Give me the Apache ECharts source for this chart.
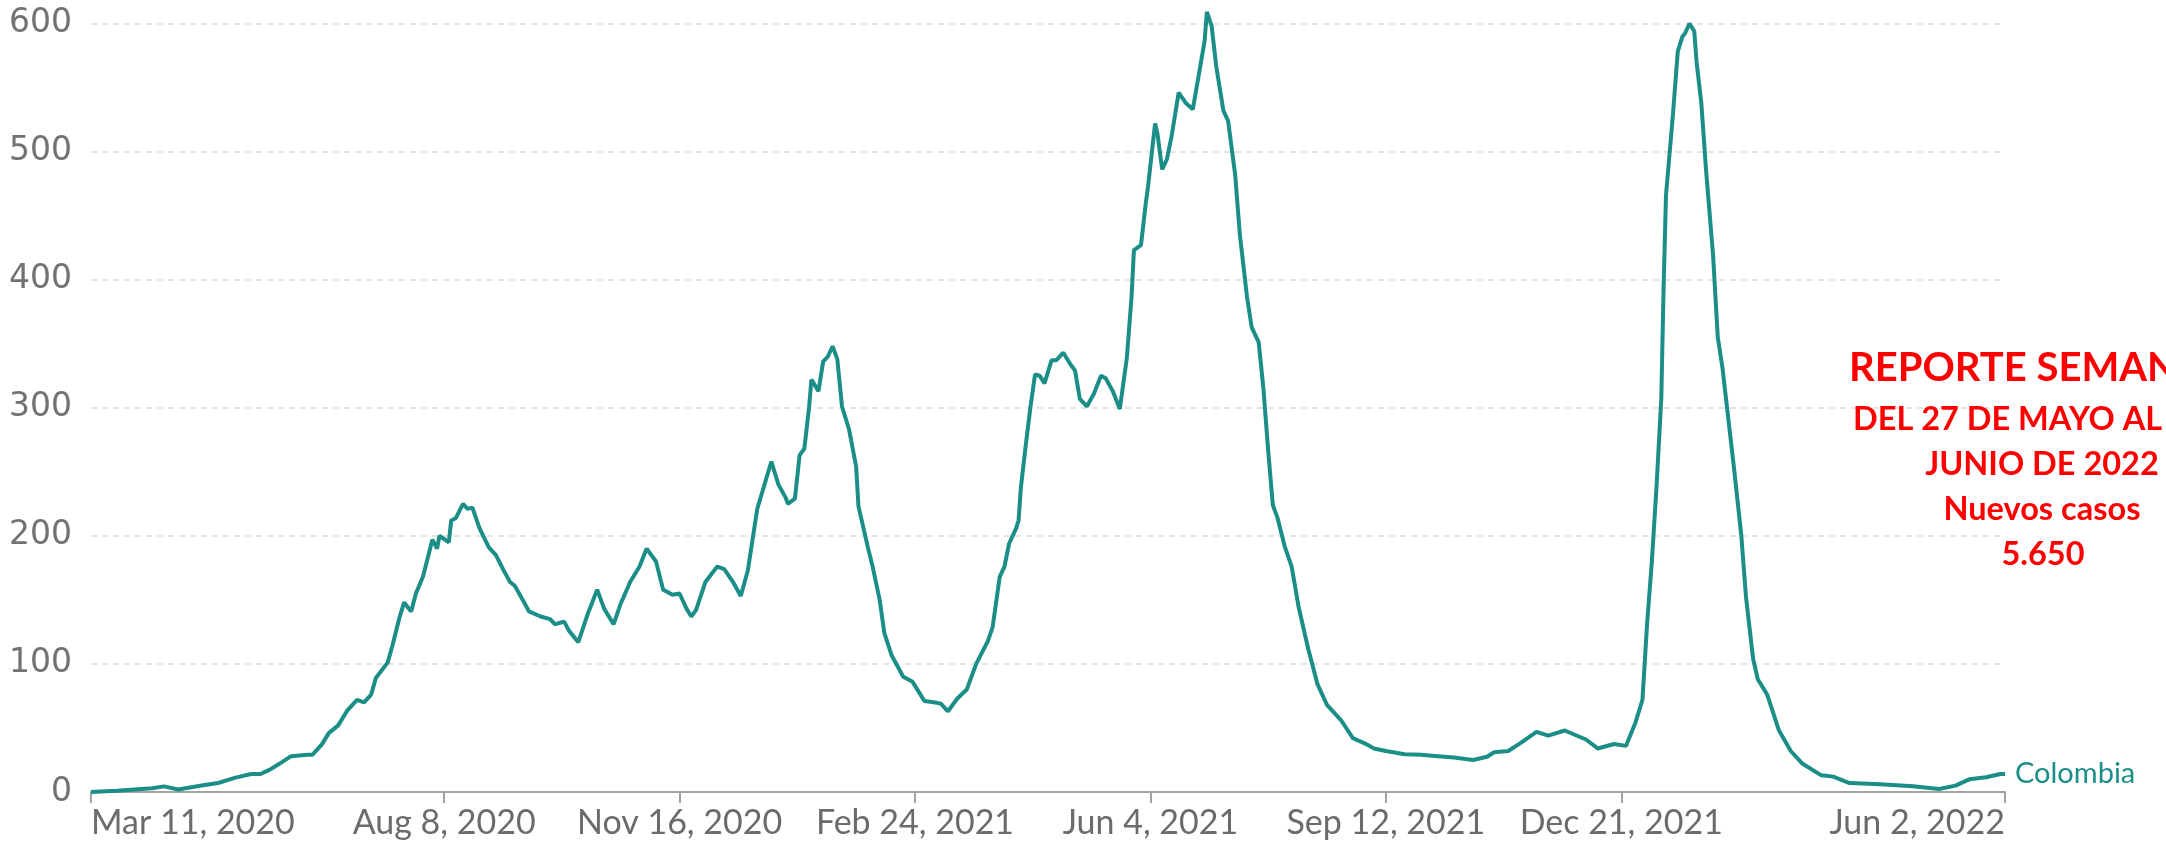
<!DOCTYPE html>
<html>
<head>
<meta charset="utf-8">
<script src="https://cdn.jsdelivr.net/npm/echarts@6/dist/echarts.min.js"></script>
<style>
  html, body { margin: 0; padding: 0; background: #fff; }
  #chart { width: 2166px; height: 842px; }
</style>
</head>
<body>
<div id="chart"></div>
<script>
// days since Mar 11, 2020 and 7-day average of new cases
var days = [0, 11, 26, 31, 37, 47, 54, 61, 68, 72, 76, 80, 85, 92, 94, 98, 101, 105, 109, 113, 116, 119, 121, 126, 128,
  131, 133, 136, 138, 141, 145, 147, 148, 152, 153, 155, 158, 160, 162, 165, 169, 172, 175, 178, 180, 184, 186, 191, 195,
  197, 201, 203, 207, 211, 215, 218, 222, 225, 229, 233, 236, 240, 243, 247, 250, 253, 255, 257, 261, 266, 269, 273, 276,
  279, 283, 289, 292, 295, 296, 299, 301, 303, 305, 306, 309, 311, 313, 315, 317, 319, 322, 325, 326, 330, 332, 335, 337,
  340, 345, 349, 354, 358, 361, 364, 368, 372, 376, 381, 383, 386, 388, 390, 393, 394, 395, 397, 399, 401, 403, 405, 408,
  410, 413, 416, 418, 420, 423, 426, 429, 431, 434, 437, 440, 442, 443, 446, 448, 449, 452, 453, 455, 457, 459, 462, 465,
  468, 470, 473, 474, 476, 478, 481, 483, 486, 488, 491, 493, 496, 498, 500, 502, 504, 507, 510, 513, 517, 521, 525, 531,
  536, 541, 545, 550, 558, 565, 572, 579, 587, 593, 596, 602, 607, 614, 619, 626, 635, 640, 647, 652, 656, 659, 661, 663,
  665, 667, 668, 669, 672, 674, 676, 677, 679, 681, 682, 684, 686, 689, 691, 693, 695, 698, 701, 703, 706, 708, 712, 717,
  722, 727, 735, 740, 747, 760, 774, 785, 792, 798, 805, 811, 813];
var cases = [0, 1, 3, 4.4, 2, 5, 7, 11, 14, 14, 17.5, 22, 28, 29, 29, 37, 46, 52, 64, 72, 70, 76, 89, 101, 114,
  136, 148, 141, 155, 168, 197, 190, 200, 195, 212, 214, 225, 221, 222, 206, 191, 185, 174, 164, 161, 148, 141, 137, 135,
  131, 133, 126, 117, 139, 158, 143, 131, 147, 164, 176, 190, 180, 158, 154, 155, 143, 137, 142, 164, 176, 174, 163, 153,
  173, 221, 258, 240, 230, 225, 229, 263, 268, 300, 322, 313, 336, 340, 348, 338, 301, 283, 254, 223, 191, 176, 150, 124,
  107, 90, 86, 71, 70, 69, 63, 73, 80, 100, 118, 129, 168, 176, 194, 206, 212, 238, 270, 300, 326, 325, 319, 337,
  337, 343, 334, 329, 307, 301, 311, 325, 323, 313, 299, 339, 387, 423, 427, 459, 473, 522, 514, 486, 494, 512, 546, 538,
  533, 554, 586, 609, 598, 566, 532, 524, 482, 435, 387, 363, 351, 315, 267, 224, 214, 192, 176, 144, 112, 84, 68, 56,
  42, 38, 34, 32, 29.5, 29, 28, 27, 25, 27.5, 31, 32, 38, 47, 44, 48, 41, 34, 37.5, 36, 54, 72, 132, 180,
  239, 307, 395, 466, 530, 578, 590, 592, 600, 594, 570, 538, 486, 419, 355, 331, 299, 251, 200, 152, 104, 88, 76, 48,
  32, 22, 13, 12, 7, 6, 4.4, 2.4, 5, 10, 11.5, 14, 14];
var tickDates = ['2020-03-11', '2020-08-08', '2020-11-16', '2021-02-24', '2021-06-04', '2021-09-12', '2021-12-21', '2022-06-02'];
var reportLines = ['REPORTE SEMANAL', 'DEL 27 DE MAYO AL', 'JUNIO DE 2022', 'Nuevos casos', '5.650'];

var DAY = 86400000;
var start = Date.UTC(2020, 2, 11);
var months = ['Jan', 'Feb', 'Mar', 'Apr', 'May', 'Jun', 'Jul', 'Aug', 'Sep', 'Oct', 'Nov', 'Dec'];
var tickDays = tickDates.map(function (s) { return Math.round((Date.parse(s + 'T00:00:00Z') - start) / DAY); });
var seriesData = days.map(function (d, i) { return [d, cases[i]]; });

function dayLabel(v) {
  var d = new Date(start + v * DAY);
  return months[d.getUTCMonth()] + ' ' + d.getUTCDate() + ', ' + d.getUTCFullYear();
}

var teal = '#1a8e87';
var red = '#ff0000';

// pick a bold Lato size so a piece of text spans the width seen in the picture
var measureCtx = document.createElement('canvas').getContext('2d');
function fitSize(text, width) {
  measureCtx.font = 'bold 100px Lato';
  return 100 * width / measureCtx.measureText(text).width;
}
var titleSize = fitSize('REPORTE SEMA', 298);
var bodySize = (fitSize('DEL 27 DE MAYO AL', 304) + fitSize('JUNIO DE 2022', 229) + fitSize('Nuevos casos', 205)) / 3;

var option = {
  animation: false,
  grid: { left: 91, right: 161, top: 23.5, bottom: 50 },
  xAxis: {
    type: 'value',
    min: tickDays[0],
    max: tickDays[tickDays.length - 1],
    axisLine: { lineStyle: { color: '#a3a3a3', width: 2 } },
    axisTick: { show: true, length: 11, lineStyle: { color: '#a3a3a3', width: 2 }, customValues: tickDays },
    axisLabel: {
      customValues: tickDays,
      color: '#6b6b6b',
      fontFamily: 'Lato',
      fontSize: 34,
      margin: 14,
      alignMinLabel: 'left',
      alignMaxLabel: 'right',
      formatter: dayLabel
    },
    splitLine: { show: false }
  },
  yAxis: {
    type: 'value',
    min: 0,
    max: 600,
    interval: 100,
    axisLine: { show: false },
    axisTick: { show: false },
    axisLabel: { color: '#727272', fontFamily: 'DejaVu Sans', fontSize: 33, margin: 19 },
    splitLine: { lineStyle: { color: '#dcdcdc', width: 1.5, type: [6, 5] } }
  },
  series: [{
    name: 'Colombia',
    type: 'line',
    data: seriesData,
    showSymbol: false,
    clip: false,
    lineStyle: { color: teal, width: 4 },
    endLabel: {
      show: true,
      formatter: 'Colombia',
      color: teal,
      fontFamily: 'Lato',
      fontSize: 29,
      distance: 10
    }
  }]
};

var chart = echarts.init(document.getElementById('chart'));
chart.setOption(option);

// the red note runs off the right edge, so it goes straight onto zrender (no layout clamping)
var notePos = [[1849, 368, 'left'], [1853, 420, 'left'], [2042, 465, 'center'], [2042, 510, 'center'], [2043, 555, 'center']];
var zr = chart.getZr();
reportLines.forEach(function (line, i) {
  var size = i === 0 ? titleSize : bodySize;
  zr.add(new echarts.graphic.Text({
    x: notePos[i][0],
    y: notePos[i][1],
    z: 100,
    style: { text: line, fill: red, font: 'bold ' + size.toFixed(1) + 'px Lato', align: notePos[i][2], verticalAlign: 'middle' }
  }));
});
</script>
</body>
</html>
